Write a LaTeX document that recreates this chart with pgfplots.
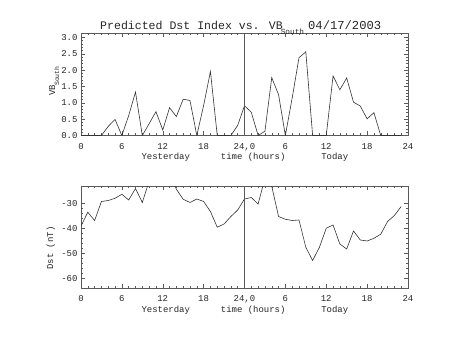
\documentclass[border=0pt]{standalone}
\usepackage{pgfplots}
\pgfplotsset{compat=1.18}
\usepackage{fontspec}
\setmainfont{Liberation Mono}
\pgfplotstableread{
h v
0 0
1 0
2 0
3 0
4 0.28
5 0.49
6 0
7 0.61
8 1.33
9 0
10 0.36
11 0.73
12 0.17
13 0.85
14 0.58
15 1.11
16 1.07
17 0
18 0.92
19 1.96
20 0
21 0
22 0
23 0.31
24 0.91
25 0.71
26 0
27 0.13
28 1.77
29 1.25
30 0
31 1.15
32 2.38
33 2.56
34 0
35 0
36 0
37 1.82
38 1.40
39 1.76
40 1.02
41 0.90
42 0.51
43 0.70
44 0
45 0
46 0
47 0
}\vbdata
\pgfplotstableread{
h d
0 -39.1
1 -33.6
2 -36.9
3 -29.3
4 -28.9
5 -28.0
6 -26.4
7 -28.7
8 -24.1
9 -29.7
10 -21.1
11 -18
12 -17
13 -17.5
14 -24.4
15 -28.4
16 -29.7
17 -28.3
18 -29.3
19 -33.3
20 -39.6
21 -38.3
22 -35.3
23 -32.7
24 -28.3
25 -27.7
26 -30.3
27 -20
28 -23.2
29 -35.3
30 -36.4
31 -36.9
32 -36.7
33 -47.6
34 -52.9
35 -47.6
36 -40.0
37 -38.7
38 -46.3
39 -48.3
40 -41.1
41 -44.7
42 -45.1
43 -44.0
44 -42.4
45 -37.3
46 -34.9
47 -31.3
}\dstdata
\begin{document}
\begin{tikzpicture}
\useasboundingbox (0bp,0bp) rectangle (453bp,340bp);
\pgfplotsset{
 common/.style={
  anchor=south west,
  scale only axis, width=327bp, height=102bp,
  xmin=0, xmax=48,
  xtick={0,6,12,18,24,30,36,42,48},
  xticklabels={0,6,12,18,{24,0},6,12,18,24},
  minor x tick num=5,
  tick align=inside,
  major tick length=4bp, minor tick length=2bp,
  axis line style={black!65, line width=0.5bp},
  every tick/.style={black!65, line width=0.4bp},
  tick label style={font=\fontsize{9}{10}\selectfont, text=black!85},
  xticklabel style={anchor=base, yshift=-14bp},
  /pgf/number format/assume math mode=true,
  clip=true,
 }
}
\begin{axis}[common, at={(81bp,204.5bp)},
  ymin=0, ymax=3.12,
  ytick={0,0.5,1,1.5,2,2.5,3},
  minor y tick num=4,
  yticklabel style={/pgf/number format/.cd, fixed, fixed zerofill, precision=1}]
\addplot[black!80, line width=0.6bp] table[x=h, y=v] {\vbdata};
\addplot[black!65, line width=0.5bp] coordinates {(24,-1) (24,4)};
\end{axis}
\begin{axis}[common, at={(81bp,52bp)},
  ymin=-63.9, ymax=-23.1,
  ytick={-60,-50,-40,-30},
  minor y tick num=4]
\addplot[black!80, line width=0.6bp] table[x=h, y=d] {\dstdata};
\addplot[black!65, line width=0.5bp] coordinates {(24,-70) (24,0)};
\end{axis}
% title
\node[anchor=base west, inner sep=0, text=black!85, font=\fontsize{11.6}{13}\selectfont] at (100bp,310.7bp)
  {Predicted Dst Index vs. VB\kern-2bp\raisebox{-5.5bp}{\fontsize{7.8}{8}\selectfont South}};
\node[anchor=base west, inner sep=0, text=black!85, font=\fontsize{12.2}{13}\selectfont] at (308bp,310.7bp) {04/17/2003};
% x labels
\foreach \yy in {180,27.5}{
  \node[anchor=base, inner sep=0, text=black!85, font=\fontsize{9}{10}\selectfont] at (165.8bp,\yy bp) {Yesterday};
  \node[anchor=base, inner sep=0, text=black!85, font=\fontsize{9}{10}\selectfont] at (253.2bp,\yy bp) {time (hours)};
  \node[anchor=base, inner sep=0, text=black!85, font=\fontsize{9}{10}\selectfont] at (334.8bp,\yy bp) {Today};
}
% y labels
\node[rotate=90, anchor=base, inner sep=0, text=black!85, font=\fontsize{9}{10}\selectfont] at (55bp,259bp)
  {VB\kern-1bp\raisebox{-4bp}{\fontsize{6.5}{7}\selectfont South}};
\node[rotate=90, anchor=base, inner sep=0, text=black!85, font=\fontsize{9}{10}\selectfont] at (53bp,92bp) {Dst (nT)};
\end{tikzpicture}
\end{document}
